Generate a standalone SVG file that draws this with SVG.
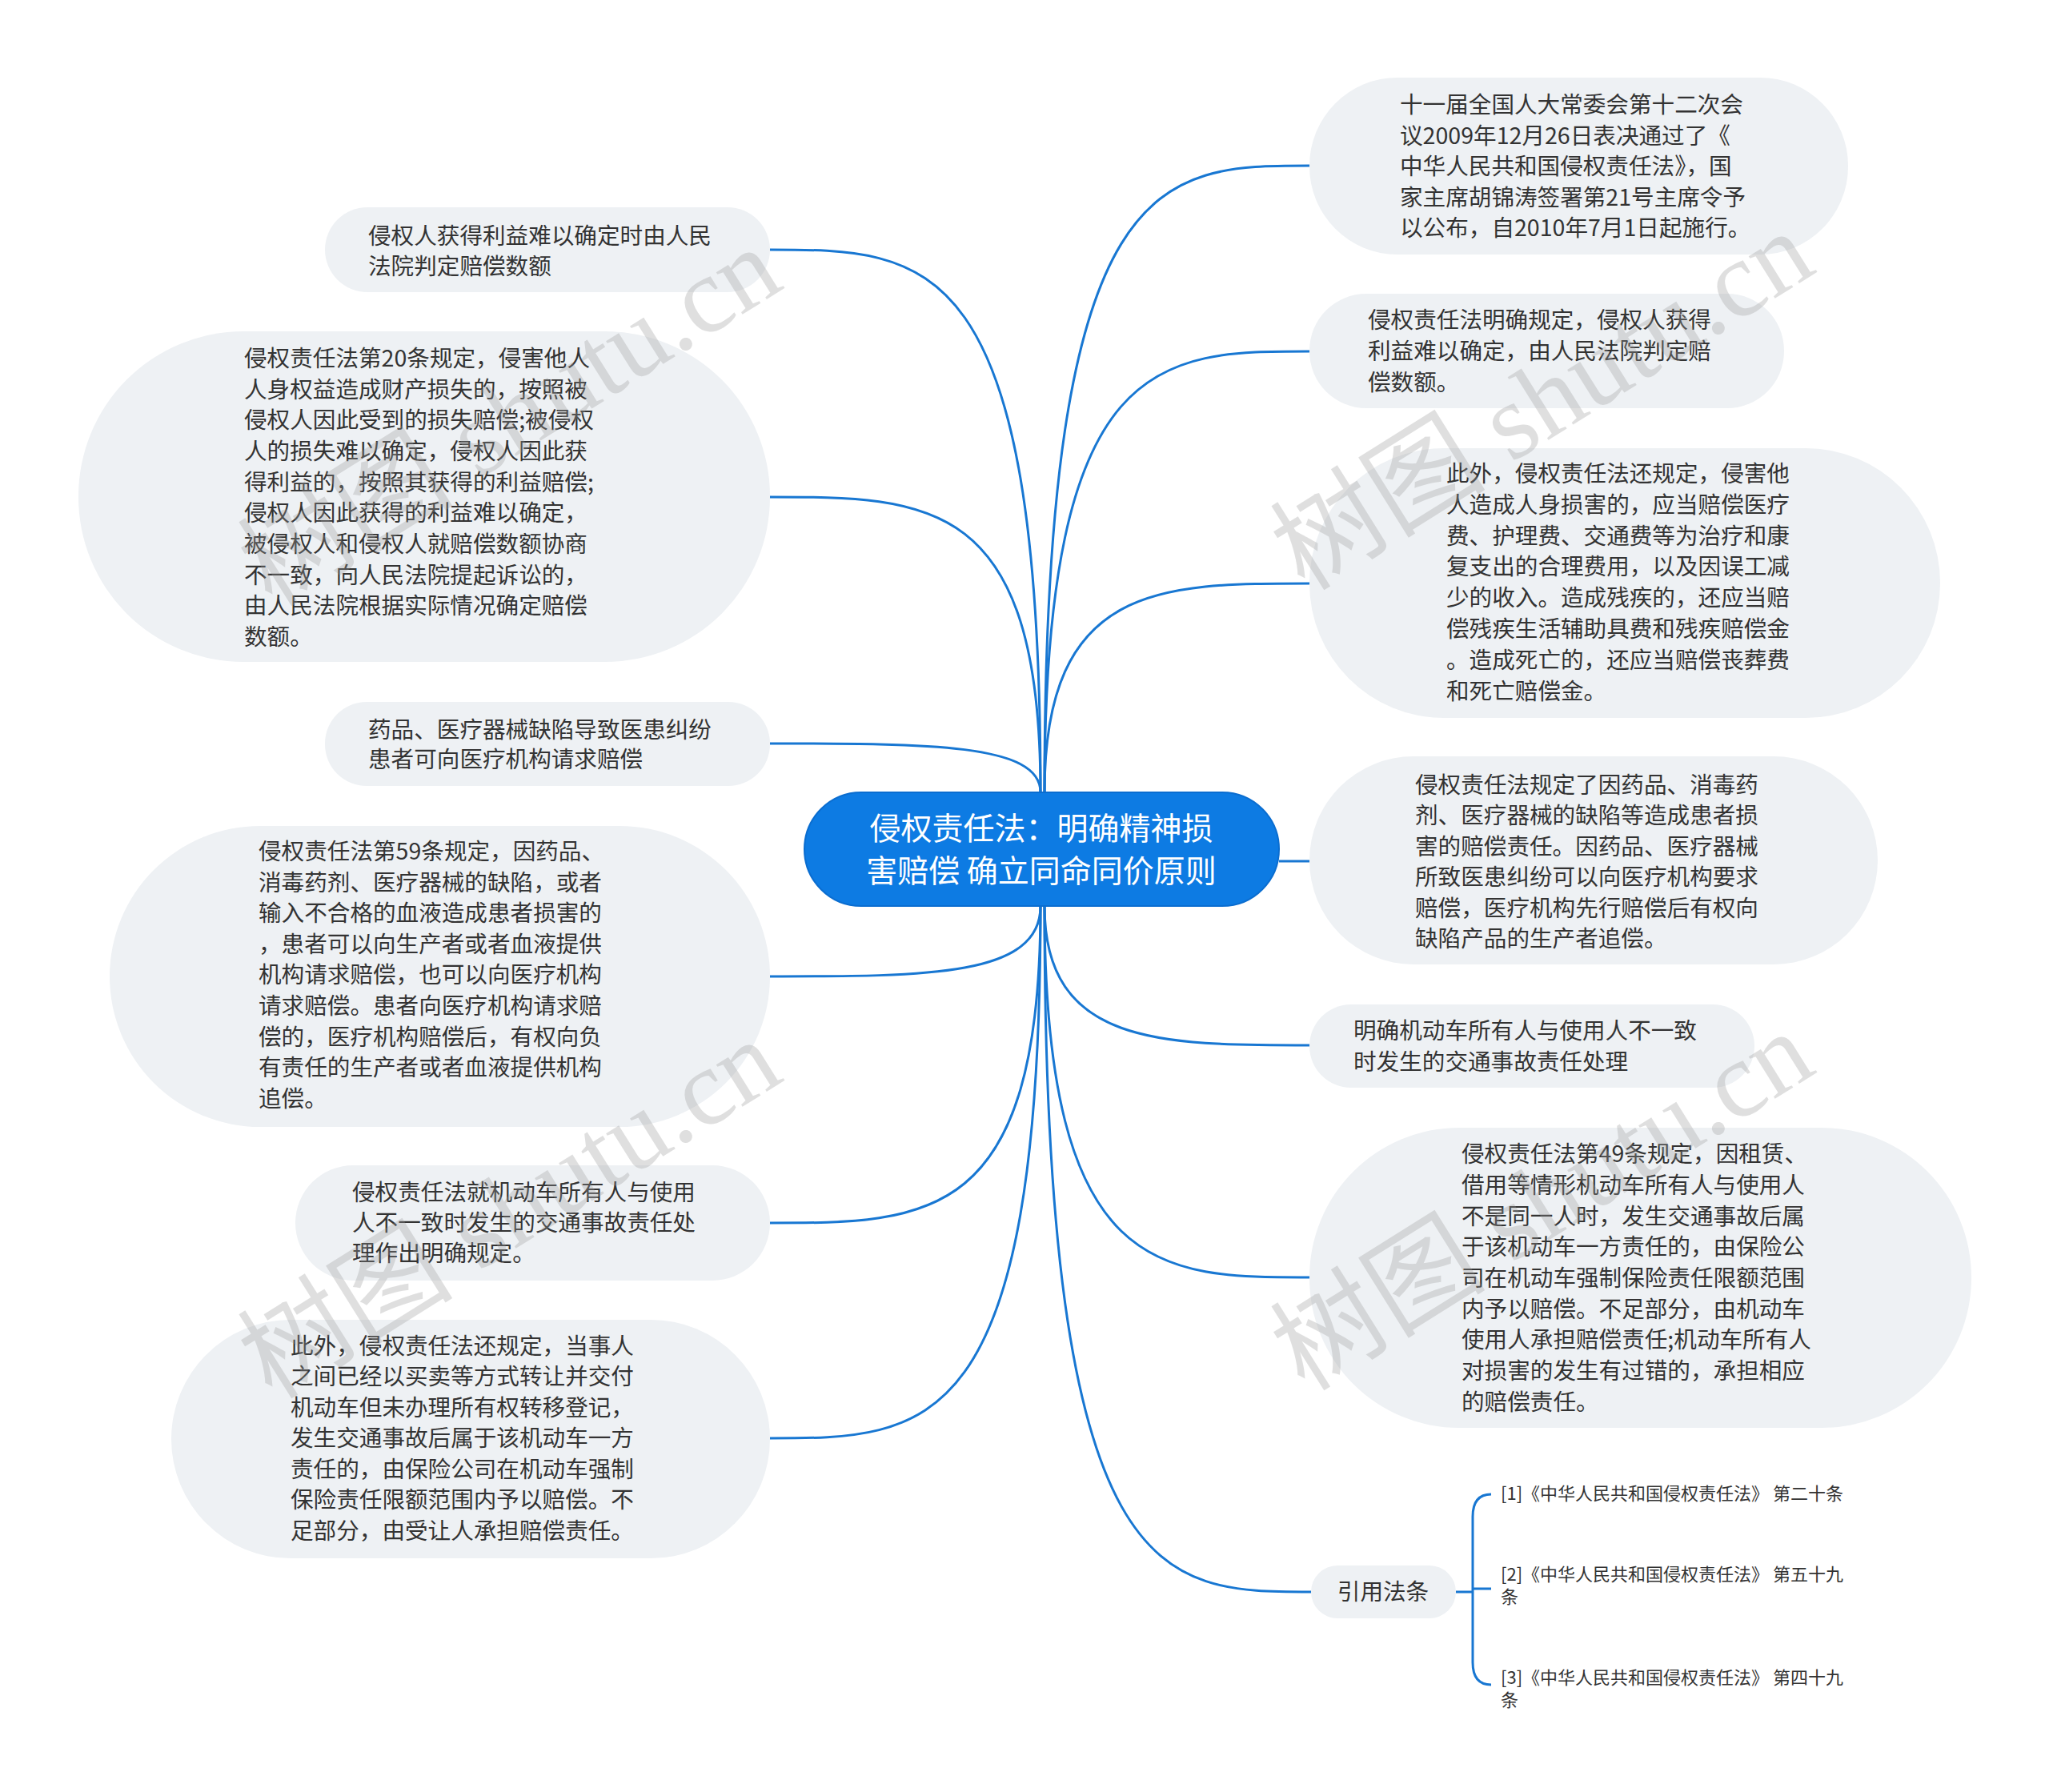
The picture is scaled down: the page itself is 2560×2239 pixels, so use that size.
<svg xmlns="http://www.w3.org/2000/svg" width="2560" height="2239" viewBox="0 0 2560 2239">
<style>
.n{fill:#eef1f4}
.t{font-family:"Noto Sans CJK SC","Noto Sans",sans-serif;font-size:28.6px;fill:#333}
.s{font-family:"Noto Sans CJK SC","Noto Sans",sans-serif;font-size:22px;fill:#333}
.c{fill:none;stroke:#1877d2;stroke-width:3}
.w{font-family:"Liberation Serif","Noto Sans CJK SC",serif;font-size:135px;fill:#999;opacity:0.3}
</style>
<rect width="2560" height="2239" fill="#fff"/>
<g id="connectors">
<path class="c" d="M1300 990 C1300 312 1160 312 962 312"/>
<path class="c" d="M1300 990 C1300 621 1160 621 962 621"/>
<path class="c" d="M1300 990 C1300 929 1160 929 962 929"/>
<path class="c" d="M1300 1132 C1300 1220 1160 1220 962 1220"/>
<path class="c" d="M1300 1132 C1300 1528 1160 1528 962 1528"/>
<path class="c" d="M1300 1132 C1300 1797 1160 1797 962 1797"/>
<path class="c" d="M1305 990 C1305 207 1450 207 1636 207"/>
<path class="c" d="M1305 990 C1305 439 1450 439 1636 439"/>
<path class="c" d="M1305 990 C1305 729 1450 729 1636 729"/>
<path class="c" d="M1598 1076 L1636 1076"/>
<path class="c" d="M1305 1132 C1305 1306 1450 1306 1636 1306"/>
<path class="c" d="M1305 1132 C1305 1596 1450 1596 1636 1596"/>
<path class="c" d="M1305 1132 C1305 1989 1450 1989 1638 1989"/>
<path class="c" d="M1819 1989 L1840 1989 M1863 1867 Q1840 1867 1840 1895 L1840 2077 Q1840 2105 1863 2105 M1840 1985 L1863 1985"/>
</g>
<g id="center">
<rect x="1005" y="990" width="593" height="142" rx="71" fill="#0d7be3" stroke="#0a6dd0" stroke-width="2"/>
<text x="1301" y="1049" text-anchor="middle" style="font-family:'Noto Sans CJK SC',sans-serif;font-size:39px;fill:#fff">侵权责任法：明确精神损</text>
<text x="1301" y="1102" text-anchor="middle" style="font-family:'Noto Sans CJK SC',sans-serif;font-size:39px;fill:#fff">害赔偿 确立同命同价原则</text>
</g>
<g id="L1"><rect class="n" x="406" y="259" width="556" height="106" rx="53"/>
<text class="t" x="460" y="305">侵权人获得利益难以确定时由人民</text><text class="t" x="460" y="343">法院判定赔偿数额</text></g>
<g id="L2"><rect class="n" x="98" y="414" width="864" height="413" rx="206"/>
<text class="t" x="305"><tspan x="305" y="458">侵权责任法第20条规定，侵害他人</tspan><tspan x="305" y="497">人身权益造成财产损失的，按照被</tspan><tspan x="305" y="535">侵权人因此受到的损失赔偿;被侵权</tspan><tspan x="305" y="574">人的损失难以确定，侵权人因此获</tspan><tspan x="305" y="613">得利益的，按照其获得的利益赔偿;</tspan><tspan x="305" y="651">侵权人因此获得的利益难以确定，</tspan><tspan x="305" y="690">被侵权人和侵权人就赔偿数额协商</tspan><tspan x="305" y="729">不一致，向人民法院提起诉讼的，</tspan><tspan x="305" y="767">由人民法院根据实际情况确定赔偿</tspan><tspan x="305" y="806">数额。</tspan></text></g>
<g id="L3"><rect class="n" x="406" y="877" width="556" height="105" rx="52"/>
<text class="t" x="460" y="922">药品、医疗器械缺陷导致医患纠纷</text><text class="t" x="460" y="959">患者可向医疗机构请求赔偿</text></g>
<g id="L4"><rect class="n" x="137" y="1032" width="825" height="376" rx="188"/>
<text class="t"><tspan x="323" y="1074">侵权责任法第59条规定，因药品、</tspan><tspan x="323" y="1113">消毒药剂、医疗器械的缺陷，或者</tspan><tspan x="323" y="1151">输入不合格的血液造成患者损害的</tspan><tspan x="323" y="1190">，患者可以向生产者或者血液提供</tspan><tspan x="323" y="1228">机构请求赔偿，也可以向医疗机构</tspan><tspan x="323" y="1267">请求赔偿。患者向医疗机构请求赔</tspan><tspan x="323" y="1306">偿的，医疗机构赔偿后，有权向负</tspan><tspan x="323" y="1344">有责任的生产者或者血液提供机构</tspan><tspan x="323" y="1383">追偿。</tspan></text></g>
<g id="L5"><rect class="n" x="369" y="1456" width="593" height="144" rx="72"/>
<text class="t"><tspan x="440" y="1500">侵权责任法就机动车所有人与使用</tspan><tspan x="440" y="1538">人不一致时发生的交通事故责任处</tspan><tspan x="440" y="1576">理作出明确规定。</tspan></text></g>
<g id="L6"><rect class="n" x="214" y="1649" width="748" height="298" rx="149"/>
<text class="t"><tspan x="363" y="1692">此外，侵权责任法还规定，当事人</tspan><tspan x="363" y="1730">之间已经以买卖等方式转让并交付</tspan><tspan x="363" y="1769">机动车但未办理所有权转移登记，</tspan><tspan x="363" y="1807">发生交通事故后属于该机动车一方</tspan><tspan x="363" y="1846">责任的，由保险公司在机动车强制</tspan><tspan x="363" y="1884">保险责任限额范围内予以赔偿。不</tspan><tspan x="363" y="1923">足部分，由受让人承担赔偿责任。</tspan></text></g>
<g id="R1"><rect class="n" x="1636" y="97" width="673" height="221" rx="110"/>
<text class="t"><tspan x="1749" y="141">十一届全国人大常委会第十二次会</tspan><tspan x="1749" y="180">议2009年12月26日表决通过了《</tspan><tspan x="1749" y="218">中华人民共和国侵权责任法》，国</tspan><tspan x="1749" y="257">家主席胡锦涛签署第21号主席令予</tspan><tspan x="1749" y="295">以公布，自2010年7月1日起施行。</tspan></text></g>
<g id="R2"><rect class="n" x="1636" y="367" width="593" height="143" rx="71"/>
<text class="t"><tspan x="1709" y="410">侵权责任法明确规定，侵权人获得</tspan><tspan x="1709" y="449">利益难以确定，由人民法院判定赔</tspan><tspan x="1709" y="488">偿数额。</tspan></text></g>
<g id="R3"><rect class="n" x="1636" y="560" width="788" height="337" rx="168"/>
<text class="t"><tspan x="1807" y="602">此外，侵权责任法还规定，侵害他</tspan><tspan x="1807" y="641">人造成人身损害的，应当赔偿医疗</tspan><tspan x="1807" y="680">费、护理费、交通费等为治疗和康</tspan><tspan x="1807" y="718">复支出的合理费用，以及因误工减</tspan><tspan x="1807" y="757">少的收入。造成残疾的，还应当赔</tspan><tspan x="1807" y="796">偿残疾生活辅助具费和残疾赔偿金</tspan><tspan x="1807" y="835">。造成死亡的，还应当赔偿丧葬费</tspan><tspan x="1807" y="874">和死亡赔偿金。</tspan></text></g>
<g id="R4"><rect class="n" x="1636" y="945" width="710" height="260" rx="130"/>
<text class="t"><tspan x="1768" y="991">侵权责任法规定了因药品、消毒药</tspan><tspan x="1768" y="1029">剂、医疗器械的缺陷等造成患者损</tspan><tspan x="1768" y="1068">害的赔偿责任。因药品、医疗器械</tspan><tspan x="1768" y="1106">所致医患纠纷可以向医疗机构要求</tspan><tspan x="1768" y="1145">赔偿，医疗机构先行赔偿后有权向</tspan><tspan x="1768" y="1183">缺陷产品的生产者追偿。</tspan></text></g>
<g id="R5"><rect class="n" x="1636" y="1255" width="556" height="104" rx="52"/>
<text class="t"><tspan x="1691" y="1298">明确机动车所有人与使用人不一致</tspan><tspan x="1691" y="1337">时发生的交通事故责任处理</tspan></text></g>
<g id="R6"><rect class="n" x="1636" y="1409" width="827" height="375" rx="187"/>
<text class="t"><tspan x="1826" y="1452">侵权责任法第49条规定，因租赁、</tspan><tspan x="1826" y="1491">借用等情形机动车所有人与使用人</tspan><tspan x="1826" y="1530">不是同一人时，发生交通事故后属</tspan><tspan x="1826" y="1568">于该机动车一方责任的，由保险公</tspan><tspan x="1826" y="1607">司在机动车强制保险责任限额范围</tspan><tspan x="1826" y="1646">内予以赔偿。不足部分，由机动车</tspan><tspan x="1826" y="1684">使用人承担赔偿责任;机动车所有人</tspan><tspan x="1826" y="1723">对损害的发生有过错的，承担相应</tspan><tspan x="1826" y="1762">的赔偿责任。</tspan></text></g>
<g id="cite"><rect class="n" x="1638" y="1956" width="181" height="66" rx="33"/>
<text class="t" x="1728" y="1999" text-anchor="middle">引用法条</text></g>
<g id="c1"><text class="s" x="1875" y="1874">[1]《中华人民共和国侵权责任法》 第二十条</text></g>
<g id="c2"><text class="s"><tspan x="1875" y="1975">[2]《中华人民共和国侵权责任法》 第五十九</tspan><tspan x="1875" y="2003">条</tspan></text></g>
<g id="c3"><text class="s"><tspan x="1875" y="2104">[3]《中华人民共和国侵权责任法》 第四十九</tspan><tspan x="1875" y="2132">条</tspan></text></g>
<g id="watermarks">
<text class="w" x="340" y="760" transform="rotate(-32 340 760)">树图 shutu.cn</text>
<text class="w" x="1630" y="740" transform="rotate(-32 1630 740)">树图 shutu.cn</text>
<text class="w" x="340" y="1750" transform="rotate(-32 340 1750)">树图 shutu.cn</text>
<text class="w" x="1630" y="1740" transform="rotate(-32 1630 1740)">树图 shutu.cn</text>
</g>
</svg>
